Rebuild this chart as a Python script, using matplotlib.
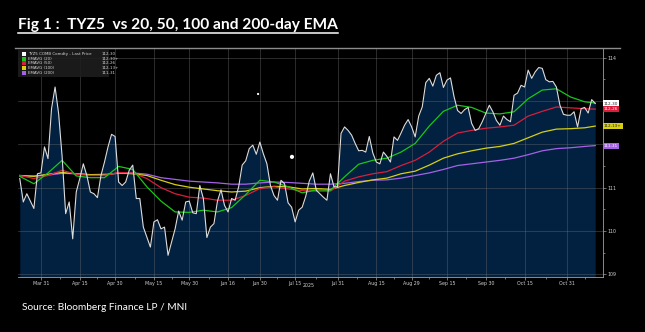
import matplotlib
matplotlib.use('Agg')
import matplotlib.pyplot as plt
import numpy as np
import pandas as pd
from matplotlib.patches import Rectangle
from matplotlib.lines import Line2D
import matplotlib.transforms as mtrans

# ---------------- data ----------------
holidays = ['2025-04-18', '2025-05-26', '2025-06-19', '2025-07-04', '2025-09-01']
days = pd.bdate_range('2025-03-21', '2025-11-12', freq='C', holidays=holidays)

price = [111.21, 110.67, 110.86, 110.69, 110.52, 111.32, 111.34, 111.94, 111.67, 112.82,
         113.32, 112.71, 111.71, 110.40, 110.67, 109.82, 110.90, 111.21, 111.55, 111.28,
         110.90, 110.86, 110.77, 111.28, 111.59, 111.94, 112.23, 112.18, 111.13, 111.05,
         111.13, 111.40, 111.52, 110.75, 110.75, 110.09, 109.86, 109.63, 110.21, 110.26,
         110.05, 110.09, 109.44, 109.75, 110.05, 110.46, 110.25, 110.67, 110.69, 110.42,
         110.40, 111.05, 110.75, 109.85, 110.09, 110.17, 110.69, 110.95, 110.59, 110.44,
         110.75, 110.71, 111.02, 111.52, 111.62, 111.90, 111.98, 111.77, 112.05, 111.78,
         111.55, 111.05, 110.82, 110.71, 111.17, 111.09, 110.65, 110.55, 110.21, 110.48,
         110.55, 110.80, 111.15, 111.34, 110.94, 110.86, 110.78, 110.71, 111.32, 111.02,
         111.02, 112.25, 112.40, 112.32, 112.21, 112.02, 111.85, 111.86, 111.82, 112.18,
         111.80, 111.59, 111.55, 111.82, 111.72, 111.59, 112.17, 112.09, 112.26, 112.44,
         112.57, 112.40, 112.17, 112.65, 112.86, 113.42, 113.52, 113.34, 113.59, 113.65,
         113.31, 113.48, 113.53, 113.10, 112.78, 112.71, 112.80, 112.85, 112.48, 112.32,
         112.36, 112.52, 112.71, 112.90, 112.75, 112.55, 112.44, 112.65, 112.57, 112.52,
         113.13, 113.18, 113.36, 113.32, 113.71, 113.52, 113.67, 113.77, 113.75, 113.49,
         113.44, 113.45, 113.32, 112.90, 112.69, 112.67, 112.67, 112.75, 112.40, 112.82,
         112.85, 112.72, 113.03, 112.94]

# trading-day positions (into `days`) at which the EMA curves were read
ema_pos = list(range(0, 161, 4)) + [163]
ema20 = [111.26, 111.09, 111.34, 111.63, 111.27, 111.23, 111.23, 111.49, 111.42, 111.02,
         110.69, 110.44, 110.43, 110.48, 110.44, 110.54, 110.84, 111.17, 111.13, 111.02,
         110.88, 110.95, 110.94, 111.25, 111.54, 111.63, 111.68, 111.82, 112.02, 112.42,
         112.76, 112.90, 112.85, 112.72, 112.70, 112.75, 113.05, 113.25, 113.28, 113.09,
         112.98, 112.95]
ema50 = [111.28, 111.21, 111.28, 111.40, 111.31, 111.28, 111.28, 111.35, 111.34, 111.21,
         111.00, 110.86, 110.78, 110.76, 110.71, 110.71, 110.82, 110.98, 111.02, 110.97,
         110.93, 110.92, 110.92, 111.15, 111.25, 111.32, 111.37, 111.51, 111.63, 111.82,
         112.07, 112.26, 112.32, 112.37, 112.40, 112.44, 112.65, 112.76, 112.86, 112.84,
         112.82, 112.81]
ema100 = [111.28, 111.26, 111.31, 111.35, 111.32, 111.30, 111.29, 111.34, 111.32, 111.28,
          111.17, 111.07, 111.01, 110.97, 110.93, 110.90, 110.92, 111.00, 111.03, 111.02,
          110.97, 110.98, 110.96, 111.05, 111.12, 111.18, 111.22, 111.32, 111.38, 111.52,
          111.68, 111.78, 111.85, 111.91, 111.95, 112.02, 112.15, 112.28, 112.35, 112.36,
          112.38, 112.42]
ema200 = [111.28, 111.27, 111.29, 111.33, 111.32, 111.30, 111.31, 111.33, 111.34, 111.31,
          111.23, 111.19, 111.15, 111.13, 111.11, 111.08, 111.08, 111.11, 111.13, 111.12,
          111.10, 111.08, 111.08, 111.10, 111.14, 111.17, 111.18, 111.22, 111.28, 111.34,
          111.42, 111.51, 111.55, 111.59, 111.63, 111.68, 111.76, 111.85, 111.90, 111.92,
          111.95, 111.97]

series_names = ['TYZ5 COMB Comdty - Last Price', 'EMAVG (20)', 'EMAVG (50)', 'EMAVG (100)', 'EMAVG (200)']
series_last = ['112-30', '112-30+', '112-26', '112-13+', '111-31']
series_colors = ['#ffffff', '#19c619', '#d81e3c', '#d6cf14', '#a462e6']

tick_dates = ['2025-03-31', '2025-04-15', '2025-04-30', '2025-05-15', '2025-05-30', '2025-06-16',
              '2025-06-30', '2025-07-15', '2025-07-31', '2025-08-15', '2025-08-29', '2025-09-15',
              '2025-09-30', '2025-10-15', '2025-10-31']
tick_labels = ['Mar 31', 'Apr 15', 'Apr 30', 'May 15', 'May 30', 'Jun 16', 'Jun 30', 'Jul 15',
               'Jul 31', 'Aug 15', 'Aug 29', 'Sep 15', 'Sep 30', 'Oct 15', 'Oct 31']
y_ticks = [109, 110, 111, 112, 113, 114]
y_tick_labels = ['109', '110', '111', '', '', '114']

# annotation markers on the Bloomberg chart (trading-day position, value)
marker_pos = [67.5, 77.1]
marker_val = [113.16, 111.71]
marker_size = [2.5, 9]

title = 'Fig 1 :  TYZ5  vs 20, 50, 100 and 200-day EMA'
source = 'Source: Bloomberg Finance LP / MNI'

# ---------------- figure ----------------
W, H = 645, 332
fig = plt.figure(figsize=(W / 100, H / 100), dpi=100, facecolor='black')


def fx(p):
    return p / W


def fy(p):
    return 1 - p / H


ax = fig.add_axes([fx(18), fy(277), fx(603) - fx(18), fy(48) - fy(277)])
ax.set_facecolor('black')

x = np.arange(len(price))
ymin, ymax = 108.94, 114.22
ax.fill_between(x, price, ymin, color='#02203f', zorder=1, linewidth=0)

ax.plot(ema_pos, ema200, color=series_colors[4], lw=0.9, zorder=3)
ax.plot(ema_pos, ema100, color=series_colors[3], lw=0.9, zorder=3)
ax.plot(ema_pos, ema50, color=series_colors[2], lw=0.9, zorder=3)
ax.plot(ema_pos, ema20, color=series_colors[1], lw=0.9, zorder=3)
ax.plot(x, price, color='#dcdcdc', lw=0.8, zorder=4)

ax.scatter(marker_pos, marker_val, s=marker_size, color='white', zorder=5, linewidths=0)

ax.set_xlim(-0.5, 165.2)
ax.set_ylim(ymin, ymax)

tick_pos = [days.get_loc(pd.Timestamp(d)) for d in tick_dates]
ax.set_xticks(tick_pos)
ax.set_xticklabels(tick_labels)
minor_pos = [(a + b) / 2 for a, b in zip(tick_pos[:-1], tick_pos[1:])] + [tick_pos[-1] + 5]
ax.set_xticks(minor_pos, minor=True)

ax.yaxis.tick_right()
ax.set_yticks(y_ticks)
ax.set_yticklabels(y_tick_labels)
ax.set_yticks([v + 0.5 for v in y_ticks[:-1]], minor=True)

ax.grid(True, which='major', color='#707070', alpha=0.45, lw=0.6, zorder=2)
ax.set_axisbelow(False)
for ln in ax.get_xgridlines() + ax.get_ygridlines():
    ln.set_zorder(2)

for s in ['left', 'top']:
    ax.spines[s].set_visible(False)
ax.spines['right'].set_color('#a0a0a0')
ax.spines['bottom'].set_color('#a0a0a0')
ax.spines['right'].set_linewidth(0.6)
ax.spines['bottom'].set_linewidth(0.6)
ax.tick_params(axis='x', which='major', colors='#a0a0a0', labelcolor='#d0d0d0', length=2,
               width=0.5, labelsize=3.4, pad=0.8)
ax.tick_params(axis='x', which='minor', colors='#a0a0a0', length=1.2, width=0.5)
ax.tick_params(axis='y', which='major', colors='#a0a0a0', labelcolor='#d0d0d0', length=2,
               width=0.5, labelsize=3.4, pad=1.0)
ax.tick_params(axis='y', which='minor', colors='#a0a0a0', length=1.2, width=0.5)

# year label
fig.text(fx(309), fy(285.5), '2025', color='#d0d0d0', fontsize=3.4, ha='center', va='center')

# top border line
fig.add_artist(Line2D([fx(15), fx(620)], [fy(48), fy(48)], color='#8c8c8c', lw=1.0))

# last-value tags on the right axis
tag_vals = [price[-1], ema50[-1], ema100[-1], ema200[-1]]
tag_text = [series_last[0], series_last[2], series_last[3], series_last[4]]
tag_face = [series_colors[0], series_colors[2], series_colors[3], series_colors[4]]
tag_fg = ['#202020', '#ffffff', '#202020', '#ffffff']
blend = mtrans.blended_transform_factory(fig.transFigure, ax.transData)
for v, t, fc, tc in zip(tag_vals, tag_text, tag_face, tag_fg):
    ax.text(fx(604), v, t, transform=blend, fontsize=3.0, color=tc, ha='left', va='center',
            clip_on=False, zorder=10,
            bbox=dict(boxstyle='square,pad=0.25', fc=fc, ec='none'))

# legend box
fig.patches.append(Rectangle((fx(18), fy(77)), fx(109) - fx(18), fy(50) - fy(77),
                             transform=fig.transFigure, facecolor='#1e1e1e', edgecolor='none',
                             alpha=0.9, zorder=5))
for i, (nm, lv, c) in enumerate(zip(series_names, series_last, series_colors)):
    yc = 54.0 + i * 4.65
    fig.patches.append(Rectangle((fx(21.5), fy(yc + 1.9)), fx(4.0), fy(0) - fy(3.8),
                                 transform=fig.transFigure, facecolor=c, edgecolor='none',
                                 zorder=6))
    fig.text(fx(28.3), fy(yc), nm, color='#d8d8d8', fontsize=2.9, ha='left', va='center',
             zorder=7)
    fig.text(fx(101.5), fy(yc), lv, color='#d8d8d8', fontsize=2.9, ha='left', va='center',
             zorder=7)

# title (fit to measured width) with underline
renderer = fig.canvas.get_renderer()
tt = fig.text(fx(18), fy(24.5), title, color='white', fontsize=11, fontweight='bold',
              family='Lato', ha='left', va='center')
bb = tt.get_window_extent(renderer)
tt.set_fontsize(11 * 319.0 / bb.width)
bb = tt.get_window_extent(renderer)
fig.add_artist(Line2D([bb.x0 / W, bb.x1 / W], [fy(33.2), fy(33.2)], color='white', lw=1.1))

st = fig.text(fx(21.5), fy(307), source, color='white', fontsize=7, family='Lato',
              ha='left', va='center')
bb = st.get_window_extent(renderer)
st.set_fontsize(7 * 166.0 / bb.width)

fig.savefig('out.png', dpi=100, facecolor='black')
